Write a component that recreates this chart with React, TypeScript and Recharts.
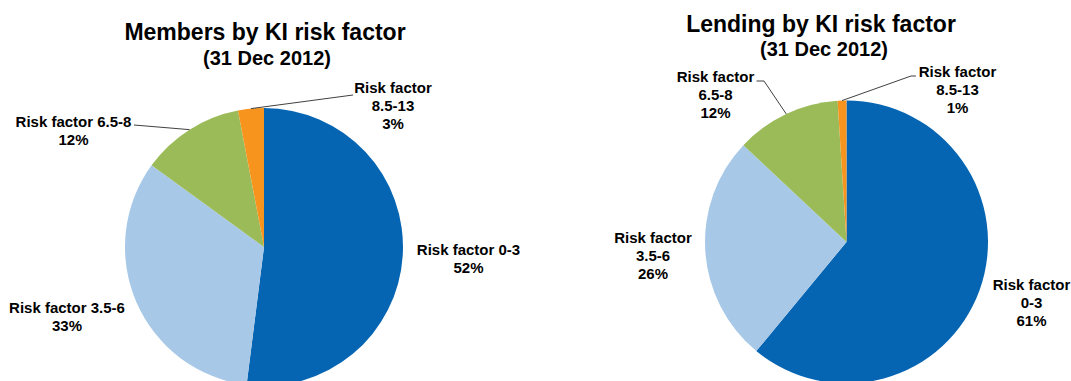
import { PieChart, Pie, Cell } from 'recharts';

const ranges = ['0-3', '3.5-6', '6.5-8', '8.5-13'];
const membersShare = [52, 33, 12, 3];
const lendingShare = [61, 26, 12, 1];
const sliceColors = ['#0565B2', '#A8C8E8', '#9BBB59', '#F7941E'];

const membersData = ranges.map((r, i) => ({ name: `Risk factor ${r}`, range: r, value: membersShare[i] }));
const lendingData = ranges.map((r, i) => ({ name: `Risk factor ${r}`, range: r, value: lendingShare[i] }));

const FONT = '"Liberation Sans", Arial, Helvetica, sans-serif';
const LINE_H = 18;
const RAD = Math.PI / 180;

type LabelPlace = {
  dx: number;
  dy: number;
  oneLine?: boolean;
  leader?: number[][];
};

// label anchor (centre x, first baseline) relative to the pie centre
const membersPlaces: LabelPlace[] = [
  { dx: 204.5, dy: 8, oneLine: true },
  { dx: -197, dy: 66, oneLine: true },
  { dx: -190.5, dy: -120.5, oneLine: true, leader: [[-130, -122]] },
  { dx: 129, dy: -154, leader: [[89, -152]] },
];

const lendingPlaces: LabelPlace[] = [
  { dx: 185, dy: 48 },
  { dx: -193.5, dy: 1 },
  { dx: -131, dy: -160, leader: [[-90, -161], [-82.5, -161]] },
  { dx: 111, dy: -165.5, leader: [[69.5, -166], [64.5, -166]] },
];

const makeLabel = (places: LabelPlace[]) => (props: any) => {
  const { cx, cy, midAngle, outerRadius, index, value, payload } = props;
  const p = places[index];
  const lines = p.oneLine
    ? [`Risk factor ${payload.range}`, `${value}%`]
    : ['Risk factor', payload.range, `${value}%`];
  const x = cx + p.dx;
  const y = cy + p.dy;
  let path = '';
  if (p.leader) {
    const ex = cx + outerRadius * Math.cos(-midAngle * RAD);
    const ey = cy + outerRadius * Math.sin(-midAngle * RAD);
    path = p.leader.map((pt, i) => `${i === 0 ? 'M' : 'L'}${cx + pt[0]},${cy + pt[1]}`).join(' ') + ` L${ex},${ey}`;
  }
  return (
    <g>
      {path && <path d={path} stroke="#404040" strokeWidth={1} fill="none" />}
      <text x={x} y={y} textAnchor="middle" fontFamily={FONT} fontSize={15} fontWeight="bold" fill="#000">
        {lines.map((l, i) => (
          <tspan key={i} x={x} y={y + i * LINE_H}>
            {l}
          </tspan>
        ))}
      </text>
    </g>
  );
};

const titleStyle = { fontFamily: FONT, fontWeight: 'bold' as const, fill: '#000' };

export default function App() {
  return (
    <div style={{ position: 'absolute', left: 0, top: 0, width: 1071, height: 381, background: '#fff' }}>
      <PieChart width={1071} height={381} margin={{ top: 0, right: 0, bottom: 0, left: 0 }}>
        <Pie
          data={membersData}
          dataKey="value"
          cx={264}
          cy={247}
          outerRadius={139}
          startAngle={90}
          endAngle={-270}
          stroke="none"
          label={makeLabel(membersPlaces)}
          labelLine={false}
          isAnimationActive={false}
        >
          {membersData.map((d, i) => (
            <Cell key={d.name} fill={sliceColors[i]} />
          ))}
        </Pie>
        <Pie
          data={lendingData}
          dataKey="value"
          cx={846.5}
          cy={242}
          outerRadius={141.5}
          startAngle={90}
          endAngle={-270}
          stroke="none"
          label={makeLabel(lendingPlaces)}
          labelLine={false}
          isAnimationActive={false}
        >
          {lendingData.map((d, i) => (
            <Cell key={d.name} fill={sliceColors[i]} />
          ))}
        </Pie>
      </PieChart>
      <svg width={1071} height={381} style={{ position: 'absolute', left: 0, top: 0, pointerEvents: 'none' }}>
        <text x={265} y={40} textAnchor="middle" fontSize={23} {...titleStyle}>
          Members by KI risk factor
        </text>
        <text x={267} y={64.5} textAnchor="middle" fontSize={20} {...titleStyle}>
          (31 Dec 2012)
        </text>
        <text x={821} y={31.5} textAnchor="middle" fontSize={23} {...titleStyle}>
          Lending by KI risk factor
        </text>
        <text x={824} y={56} textAnchor="middle" fontSize={20} {...titleStyle}>
          (31 Dec 2012)
        </text>
      </svg>
    </div>
  );
}
